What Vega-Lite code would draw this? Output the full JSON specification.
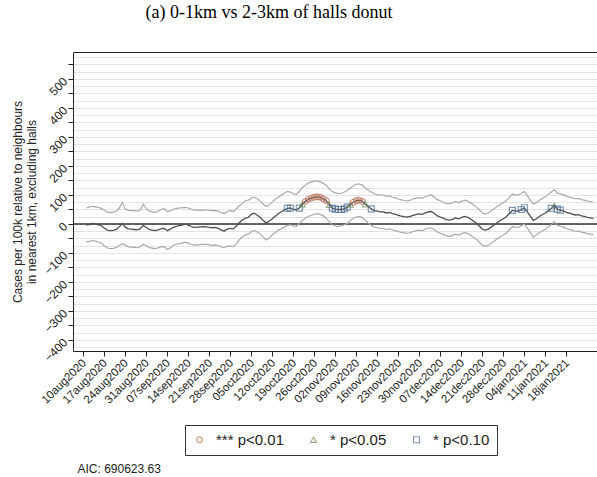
{
"$schema": "https://vega.github.io/schema/vega-lite/v6.json",
"width": 524, "height": 299,
"autosize": {"type": "none"},
"padding": {"left": 73, "top": 52, "right": 0, "bottom": 126},
"background": "white",
"title": {"text": "(a) 0-1km vs 2-3km of halls donut", "font": "Liberation Serif", "fontSize": 18, "fontWeight": "normal", "color": "#000", "anchor": "middle", "frame": "group", "dx": -66, "offset": 30},
"config": {"view": {"stroke": null}, "axis": {"labelFont": "Liberation Sans", "titleFont": "Liberation Sans", "domainColor": "#222", "tickColor": "#222", "labelColor": "#222", "titleColor": "#222"}},
"data": {"values": [
{"t":"2020-08-11","e":-4,"h":55,"l":-62},
{"t":"2020-08-12","e":-2,"h":58,"l":-60},
{"t":"2020-08-13","e":2,"h":61,"l":-57},
{"t":"2020-08-14","e":0,"h":59,"l":-59},
{"t":"2020-08-15","e":-3,"h":57,"l":-62},
{"t":"2020-08-16","e":-6,"h":54,"l":-66},
{"t":"2020-08-17","e":-14,"h":47,"l":-75},
{"t":"2020-08-18","e":-21,"h":41,"l":-83},
{"t":"2020-08-19","e":-23,"h":39,"l":-85},
{"t":"2020-08-20","e":-22,"h":41,"l":-84},
{"t":"2020-08-21","e":-19,"h":44,"l":-81},
{"t":"2020-08-22","e":-10,"h":55,"l":-74},
{"t":"2020-08-23","e":2,"h":74,"l":-68},
{"t":"2020-08-24","e":-11,"h":52,"l":-73},
{"t":"2020-08-25","e":-17,"h":47,"l":-79},
{"t":"2020-08-26","e":-18,"h":46,"l":-80},
{"t":"2020-08-27","e":-19,"h":46,"l":-81},
{"t":"2020-08-28","e":-20,"h":44,"l":-82},
{"t":"2020-08-29","e":-16,"h":49,"l":-78},
{"t":"2020-08-30","e":-5,"h":68,"l":-70},
{"t":"2020-08-31","e":-12,"h":53,"l":-75},
{"t":"2020-09-01","e":-19,"h":45,"l":-81},
{"t":"2020-09-02","e":-21,"h":42,"l":-83},
{"t":"2020-09-03","e":-23,"h":40,"l":-85},
{"t":"2020-09-04","e":-20,"h":44,"l":-82},
{"t":"2020-09-05","e":-16,"h":50,"l":-78},
{"t":"2020-09-06","e":-15,"h":53,"l":-79},
{"t":"2020-09-07","e":-23,"h":43,"l":-88},
{"t":"2020-09-08","e":-18,"h":45,"l":-83},
{"t":"2020-09-09","e":-12,"h":51,"l":-74},
{"t":"2020-09-10","e":-8,"h":54,"l":-70},
{"t":"2020-09-11","e":-6,"h":55,"l":-68},
{"t":"2020-09-12","e":-4,"h":56,"l":-66},
{"t":"2020-09-13","e":0,"h":57,"l":-63},
{"t":"2020-09-14","e":-4,"h":55,"l":-66},
{"t":"2020-09-15","e":-9,"h":51,"l":-70},
{"t":"2020-09-16","e":-12,"h":48,"l":-73},
{"t":"2020-09-17","e":-11,"h":48,"l":-72},
{"t":"2020-09-18","e":-10,"h":47,"l":-71},
{"t":"2020-09-19","e":-9,"h":48,"l":-70},
{"t":"2020-09-20","e":-10,"h":49,"l":-70},
{"t":"2020-09-21","e":-12,"h":47,"l":-72},
{"t":"2020-09-22","e":-13,"h":46,"l":-74},
{"t":"2020-09-23","e":-12,"h":47,"l":-72},
{"t":"2020-09-24","e":-15,"h":44,"l":-75},
{"t":"2020-09-25","e":-21,"h":39,"l":-79},
{"t":"2020-09-26","e":-24,"h":36,"l":-81},
{"t":"2020-09-27","e":-18,"h":43,"l":-77},
{"t":"2020-09-28","e":-15,"h":46,"l":-76},
{"t":"2020-09-29","e":-17,"h":43,"l":-78},
{"t":"2020-09-30","e":-8,"h":52,"l":-68},
{"t":"2020-10-01","e":4,"h":62,"l":-55},
{"t":"2020-10-02","e":14,"h":72,"l":-45},
{"t":"2020-10-03","e":20,"h":80,"l":-38},
{"t":"2020-10-04","e":23,"h":82,"l":-35},
{"t":"2020-10-05","e":33,"h":89,"l":-27},
{"t":"2020-10-06","e":37,"h":92,"l":-22},
{"t":"2020-10-07","e":30,"h":87,"l":-28},
{"t":"2020-10-08","e":22,"h":78,"l":-35},
{"t":"2020-10-09","e":12,"h":68,"l":-46},
{"t":"2020-10-10","e":3,"h":60,"l":-55},
{"t":"2020-10-11","e":10,"h":66,"l":-48},
{"t":"2020-10-12","e":18,"h":76,"l":-38},
{"t":"2020-10-13","e":27,"h":85,"l":-30},
{"t":"2020-10-14","e":35,"h":92,"l":-22},
{"t":"2020-10-15","e":42,"h":99,"l":-16},
{"t":"2020-10-16","e":48,"h":106,"l":-10},
{"t":"2020-10-17","e":54,"h":112,"l":-5,"s":"* p<0.10"},
{"t":"2020-10-18","e":55,"h":110,"l":-3,"s":"* p<0.10"},
{"t":"2020-10-19","e":50,"h":104,"l":-7},
{"t":"2020-10-20","e":49,"h":102,"l":-8},
{"t":"2020-10-21","e":55,"h":112,"l":2,"s":"* p<0.10"},
{"t":"2020-10-22","e":68,"h":125,"l":12,"s":"* p<0.05"},
{"t":"2020-10-23","e":78,"h":134,"l":20,"s":"*** p<0.01"},
{"t":"2020-10-24","e":85,"h":141,"l":26,"s":"*** p<0.01"},
{"t":"2020-10-25","e":89,"h":145,"l":30,"s":"*** p<0.01"},
{"t":"2020-10-26","e":92,"h":147,"l":34,"s":"*** p<0.01"},
{"t":"2020-10-27","e":94,"h":149,"l":36,"s":"*** p<0.01"},
{"t":"2020-10-28","e":92,"h":145,"l":33,"s":"*** p<0.01"},
{"t":"2020-10-29","e":86,"h":140,"l":28,"s":"*** p<0.01"},
{"t":"2020-10-30","e":80,"h":134,"l":20,"s":"*** p<0.01"},
{"t":"2020-10-31","e":66,"h":120,"l":8,"s":"* p<0.05"},
{"t":"2020-11-01","e":55,"h":112,"l":-3,"s":"* p<0.10"},
{"t":"2020-11-02","e":51,"h":107,"l":-7,"s":"* p<0.10"},
{"t":"2020-11-03","e":50,"h":105,"l":-8,"s":"* p<0.10"},
{"t":"2020-11-04","e":50,"h":106,"l":-6,"s":"* p<0.10"},
{"t":"2020-11-05","e":52,"h":110,"l":-3,"s":"* p<0.10"},
{"t":"2020-11-06","e":58,"h":116,"l":2,"s":"* p<0.10"},
{"t":"2020-11-07","e":67,"h":124,"l":12,"s":"* p<0.05"},
{"t":"2020-11-08","e":75,"h":131,"l":19,"s":"*** p<0.01"},
{"t":"2020-11-09","e":80,"h":137,"l":24,"s":"*** p<0.01"},
{"t":"2020-11-10","e":82,"h":138,"l":26,"s":"*** p<0.01"},
{"t":"2020-11-11","e":78,"h":134,"l":22,"s":"*** p<0.01"},
{"t":"2020-11-12","e":68,"h":124,"l":12,"s":"* p<0.05"},
{"t":"2020-11-13","e":60,"h":116,"l":3},
{"t":"2020-11-14","e":52,"h":110,"l":-5,"s":"* p<0.10"},
{"t":"2020-11-15","e":46,"h":104,"l":-11},
{"t":"2020-11-16","e":44,"h":101,"l":-13},
{"t":"2020-11-17","e":42,"h":100,"l":-15},
{"t":"2020-11-18","e":42,"h":99,"l":-15},
{"t":"2020-11-19","e":38,"h":96,"l":-19},
{"t":"2020-11-20","e":40,"h":97,"l":-17},
{"t":"2020-11-21","e":36,"h":92,"l":-20},
{"t":"2020-11-22","e":34,"h":90,"l":-23},
{"t":"2020-11-23","e":30,"h":86,"l":-26},
{"t":"2020-11-24","e":27,"h":83,"l":-29},
{"t":"2020-11-25","e":25,"h":81,"l":-31},
{"t":"2020-11-26","e":24,"h":80,"l":-32},
{"t":"2020-11-27","e":26,"h":82,"l":-30},
{"t":"2020-11-28","e":30,"h":86,"l":-26},
{"t":"2020-11-29","e":33,"h":89,"l":-23},
{"t":"2020-11-30","e":35,"h":91,"l":-21},
{"t":"2020-12-01","e":33,"h":89,"l":-23},
{"t":"2020-12-02","e":38,"h":94,"l":-18},
{"t":"2020-12-03","e":42,"h":98,"l":-14},
{"t":"2020-12-04","e":43,"h":100,"l":-13},
{"t":"2020-12-05","e":36,"h":92,"l":-20},
{"t":"2020-12-06","e":28,"h":84,"l":-28},
{"t":"2020-12-07","e":24,"h":80,"l":-32},
{"t":"2020-12-08","e":20,"h":75,"l":-36},
{"t":"2020-12-09","e":15,"h":71,"l":-41},
{"t":"2020-12-10","e":13,"h":70,"l":-43},
{"t":"2020-12-11","e":16,"h":72,"l":-40},
{"t":"2020-12-12","e":21,"h":78,"l":-35},
{"t":"2020-12-13","e":18,"h":74,"l":-38},
{"t":"2020-12-14","e":22,"h":78,"l":-34},
{"t":"2020-12-15","e":26,"h":82,"l":-30},
{"t":"2020-12-16","e":24,"h":80,"l":-32},
{"t":"2020-12-17","e":18,"h":73,"l":-38},
{"t":"2020-12-18","e":10,"h":66,"l":-46},
{"t":"2020-12-19","e":3,"h":59,"l":-53},
{"t":"2020-12-20","e":-7,"h":49,"l":-63},
{"t":"2020-12-21","e":-18,"h":38,"l":-73},
{"t":"2020-12-22","e":-21,"h":35,"l":-77},
{"t":"2020-12-23","e":-18,"h":38,"l":-74},
{"t":"2020-12-24","e":-10,"h":46,"l":-66},
{"t":"2020-12-25","e":-3,"h":53,"l":-59},
{"t":"2020-12-26","e":5,"h":61,"l":-51},
{"t":"2020-12-27","e":12,"h":68,"l":-44},
{"t":"2020-12-28","e":18,"h":74,"l":-38},
{"t":"2020-12-29","e":25,"h":81,"l":-31},
{"t":"2020-12-30","e":36,"h":92,"l":-20},
{"t":"2020-12-31","e":47,"h":103,"l":-9,"s":"* p<0.10"},
{"t":"2021-01-01","e":45,"h":101,"l":-11},
{"t":"2021-01-02","e":44,"h":100,"l":-12},
{"t":"2021-01-03","e":50,"h":106,"l":-6,"s":"* p<0.10"},
{"t":"2021-01-04","e":56,"h":112,"l":0,"s":"* p<0.10"},
{"t":"2021-01-05","e":42,"h":98,"l":-14},
{"t":"2021-01-06","e":26,"h":82,"l":-30},
{"t":"2021-01-07","e":12,"h":69,"l":-45},
{"t":"2021-01-08","e":18,"h":74,"l":-38},
{"t":"2021-01-09","e":26,"h":82,"l":-30},
{"t":"2021-01-10","e":32,"h":88,"l":-24},
{"t":"2021-01-11","e":38,"h":94,"l":-18},
{"t":"2021-01-12","e":46,"h":102,"l":-10},
{"t":"2021-01-13","e":54,"h":110,"l":-2,"s":"* p<0.10"},
{"t":"2021-01-14","e":63,"h":118,"l":7,"s":"* p<0.05"},
{"t":"2021-01-15","e":51,"h":107,"l":-5,"s":"* p<0.10"},
{"t":"2021-01-16","e":48,"h":104,"l":-8,"s":"* p<0.10"},
{"t":"2021-01-17","e":45,"h":101,"l":-11},
{"t":"2021-01-18","e":40,"h":96,"l":-16},
{"t":"2021-01-19","e":37,"h":93,"l":-19},
{"t":"2021-01-20","e":34,"h":90,"l":-22},
{"t":"2021-01-21","e":31,"h":87,"l":-25},
{"t":"2021-01-22","e":32,"h":88,"l":-24},
{"t":"2021-01-23","e":28,"h":84,"l":-28},
{"t":"2021-01-24","e":26,"h":82,"l":-30},
{"t":"2021-01-25","e":23,"h":79,"l":-33},
{"t":"2021-01-26","e":21,"h":77,"l":-35},
{"t":"2021-01-27","e":19,"h":75,"l":-37}
]},
"resolve": {"axis": {"x": "independent", "y": "independent"}},
"layer": [
{"data": {"values": [{"z": 0}]},
 "mark": {"type": "rule", "color": "#333", "strokeWidth": 1.3},
 "encoding": {"y": {"field": "z", "type": "quantitative", "scale": {"domain": [-438, 593], "nice": false, "zero": false},
   "axis": {"orient": "left", "grid": true, "gridColor": "#e3e3e3", "gridWidth": 1.2, "ticks": false, "labels": false, "domain": false, "title": null,
     "values": [-425,-400,-375,-350,-325,-300,-275,-250,-225,-200,-175,-150,-125,-100,-75,-50,-25,0,25,50,75,100,125,150,175,200,225,250,275,300,325,350,375,400,425,450,475,500,525,550,575]}}}},
{"mark": {"type": "line", "color": "#a9a9a9", "strokeWidth": 1.2},
 "encoding": {
  "x": {"field": "t", "type": "temporal", "scale": {"type": "utc", "nice": false, "domain": [{"year":2020,"month":8,"date":6,"hours":14,"utc":true},{"year":2021,"month":1,"date":28,"hours":5,"utc":true}]},
    "axis": {"orient": "top", "labels": false, "ticks": false, "domain": true, "grid": false, "title": null}},
  "y": {"field": "h", "type": "quantitative", "scale": {"domain": [-438, 593], "nice": false, "zero": false}, "axis": null}}},
{"mark": {"type": "line", "color": "#a9a9a9", "strokeWidth": 1.2},
 "encoding": {
  "x": {"field": "t", "type": "temporal", "axis": null},
  "y": {"field": "l", "type": "quantitative", "axis": null}}},
{"mark": {"type": "line", "color": "#4f4f4f", "strokeWidth": 1.3},
 "encoding": {
  "x": {"field": "t", "type": "temporal",
    "axis": {"orient": "bottom", "grid": false, "tickSize": 5, "labelAngle": -45, "labelAlign": "right", "labelBaseline": "middle", "labelFontSize": 11.5, "labelPadding": 5, "labelOffset": 1, "labelOverlap": false, "labelBound": false,
      "labelExpr": "lower(utcFormat(datum.value, '%d%b%Y'))",
      "values": [{"year":2020,"month":8,"date":10,"utc":true},{"year":2020,"month":8,"date":17,"utc":true},{"year":2020,"month":8,"date":24,"utc":true},{"year":2020,"month":8,"date":31,"utc":true},{"year":2020,"month":9,"date":7,"utc":true},{"year":2020,"month":9,"date":14,"utc":true},{"year":2020,"month":9,"date":21,"utc":true},{"year":2020,"month":9,"date":28,"utc":true},{"year":2020,"month":10,"date":5,"utc":true},{"year":2020,"month":10,"date":12,"utc":true},{"year":2020,"month":10,"date":19,"utc":true},{"year":2020,"month":10,"date":26,"utc":true},{"year":2020,"month":11,"date":2,"utc":true},{"year":2020,"month":11,"date":9,"utc":true},{"year":2020,"month":11,"date":16,"utc":true},{"year":2020,"month":11,"date":23,"utc":true},{"year":2020,"month":11,"date":30,"utc":true},{"year":2020,"month":12,"date":7,"utc":true},{"year":2020,"month":12,"date":14,"utc":true},{"year":2020,"month":12,"date":21,"utc":true},{"year":2020,"month":12,"date":28,"utc":true},{"year":2021,"month":1,"date":4,"utc":true},{"year":2021,"month":1,"date":11,"utc":true},{"year":2021,"month":1,"date":18,"utc":true}],
      "title": "AIC: 690623.63", "titleFontSize": 12, "titleFontWeight": "normal", "titleAnchor": "start", "titleAlign": "left", "titleBaseline": "alphabetic", "titleX": 4, "titleY": 121}},
  "y": {"field": "e", "type": "quantitative",
    "axis": {"orient": "left", "grid": false, "tickSize": 5, "labelAngle": -45, "labelAlign": "right", "labelBaseline": "middle", "labelFontSize": 12, "labelPadding": 3, "labelOverlap": false, "labelBound": false,
      "values": [-400,-350,-300,-250,-200,-150,-100,-50,0,50,100,150,200,250,300,350,400,450,500,550],
      "labelExpr": "datum.value % 100 === 0 ? datum.label : ''",
      "title": ["Cases per 100k relative to neighbours", "in nearest 1km, excluding halls"], "titleFontSize": 12, "titleFontWeight": "normal", "titleAngle": -90, "titleAlign": "center", "titleBaseline": "top", "titleX": -61, "titleY": 149.5, "titleLineHeight": 14}}}},
{"transform": [{"filter": "isValid(datum.s)"}],
 "mark": {"type": "point", "filled": false, "strokeWidth": 1.2},
 "encoding": {
  "x": {"field": "t", "type": "temporal", "axis": null},
  "y": {"field": "e", "type": "quantitative", "axis": null},
  "shape": {"field": "s", "type": "nominal", "scale": {"domain": ["*** p<0.01", "* p<0.05", "* p<0.10"], "range": ["circle", "triangle-up", "square"]},
    "legend": {"title": null, "orient": "none", "legendX": 112, "legendY": 373, "direction": "horizontal", "columns": 3, "strokeColor": "#333", "fillColor": "white", "padding": 7, "labelFontSize": 15, "labelFont": "Liberation Sans", "labelColor": "#222", "symbolSize": 50, "symbolStrokeWidth": 1.2, "columnPadding": 22, "labelOffset": 9}},
  "color": {"field": "s", "type": "nominal", "scale": {"domain": ["*** p<0.01", "* p<0.05", "* p<0.10"], "range": ["#b8694f", "#728a5c", "#4e6e96"]},
    "legend": {"title": null, "orient": "none", "legendX": 112, "legendY": 373, "direction": "horizontal", "columns": 3, "strokeColor": "#333", "fillColor": "white", "padding": 7, "labelFontSize": 15, "labelFont": "Liberation Sans", "labelColor": "#222", "symbolSize": 50, "symbolStrokeWidth": 1.2, "columnPadding": 22, "labelOffset": 9}},
  "size": {"field": "s", "type": "nominal", "scale": {"domain": ["*** p<0.01", "* p<0.05", "* p<0.10"], "range": [32, 36, 64]}, "legend": null}}}
]
}
